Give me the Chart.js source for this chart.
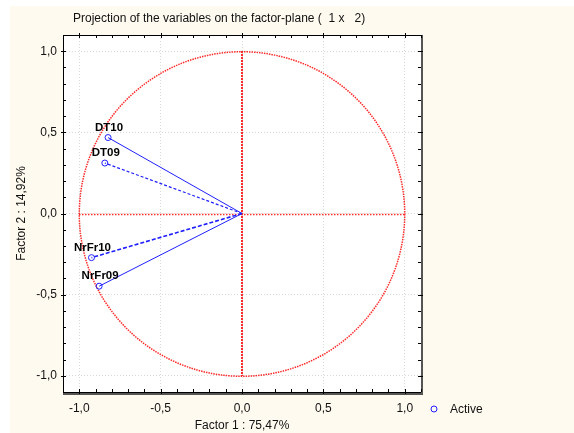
<!DOCTYPE html>
<html>
<head>
<meta charset="utf-8">
<script src="https://cdn.jsdelivr.net/npm/chart.js@4"></script>
<style>
  body { margin: 0; background: #ffffff; }
  #wrap { width: 574px; height: 433px; }
</style>
</head>
<body>
<div id="wrap"><canvas id="myChart" width="574" height="433"></canvas></div>
<script>
// values
var variables = ["DT10", "DT09", "NrFr10", "NrFr09"];
var factor1 = [-0.823, -0.843, -0.925, -0.878];
var factor2 = [0.468, 0.311, -0.272, -0.448];
var tickValues = [-1.0, -0.5, 0.0, 0.5, 1.0];
var tickLabels = ["-1,0", "-0,5", "0,0", "0,5", "1,0"];
var chartTitle = "Projection of the variables on the factor-plane (  1 x   2)";
var xTitle = "Factor 1 : 75,47%";
var yTitle = "Factor 2 : 14,92%";
var legendLabel = "Active";

var blue = "#1f1fff";
var red = "#ff2a2a";
var font = "'Liberation Sans', Arial, sans-serif";
var dashes = [[], [3, 2], [4, 2], []];
var widths = [1, 1.2, 1.6, 1];

var datasets = [];
for (var i = 0; i < variables.length; i++) {
  datasets.push({
    label: variables[i],
    data: [{x: 0, y: 0}, {x: factor1[i], y: factor2[i]}],
    showLine: true,
    borderColor: blue,
    borderWidth: widths[i],
    borderDash: dashes[i],
    pointRadius: [0, 3],
    pointBorderColor: blue,
    pointBackgroundColor: "rgba(0,0,0,0)",
    pointBorderWidth: 1
  });
}

function setTicks(scale) {
  scale.ticks = tickValues.map(function(v) { return {value: v}; });
}
function fmt(v) {
  var k = tickValues.indexOf(v);
  return k >= 0 ? tickLabels[k] : "";
}

var decor = {
  id: "decor",
  beforeDraw: function(chart) {
    var c = chart.ctx, a = chart.chartArea;
    c.save();
    c.fillStyle = "#ffffff";
    c.fillRect(0, 0, chart.width, chart.height);
    c.fillStyle = "#fefaef";
    c.fillRect(10, 6, chart.width - 10, chart.height - 6);
    c.fillStyle = "#ffffff";
    c.fillRect(a.left, a.top, a.right - a.left, a.bottom - a.top);
    c.restore();
  },
  beforeDatasetsDraw: function(chart) {
    var c = chart.ctx, xs = chart.scales.x, ys = chart.scales.y;
    var x0 = Math.round(xs.getPixelForValue(0)), y0 = Math.round(ys.getPixelForValue(0));
    var rx = xs.getPixelForValue(1) - xs.getPixelForValue(0), ry = ys.getPixelForValue(0) - ys.getPixelForValue(1);
    c.save();
    c.strokeStyle = red;
    c.lineWidth = 1.5;
    c.setLineDash([1.5, 1]);
    c.beginPath();
    c.ellipse(x0, y0, rx, ry, 0, 0, Math.PI * 2);
    c.stroke();
    // horizontal zero line
    c.lineWidth = 1.4;
    c.setLineDash([1.5, 1.5]);
    c.beginPath();
    c.moveTo(Math.round(xs.getPixelForValue(-1)), y0 + 0.5);
    c.lineTo(Math.round(xs.getPixelForValue(1)), y0 + 0.5);
    c.stroke();
    // vertical zero line
    c.lineWidth = 2;
    c.setLineDash([2, 1]);
    c.beginPath();
    c.moveTo(x0, Math.round(ys.getPixelForValue(1)));
    c.lineTo(x0, Math.round(ys.getPixelForValue(-1)));
    c.stroke();
    c.restore();
  },
  afterDraw: function(chart) {
    var c = chart.ctx, a = chart.chartArea, xs = chart.scales.x, ys = chart.scales.y;
    c.save();
    // frame
    c.strokeStyle = "#000000";
    c.lineWidth = 1;
    c.strokeRect(a.left + 0.5, a.top + 0.5, a.right - a.left, a.bottom - a.top);
    c.strokeStyle = "#555555";
    c.lineWidth = 2;
    c.beginPath();
    c.moveTo(a.right + 1, a.top);
    c.lineTo(a.right + 1, a.bottom + 2);
    c.lineTo(a.left, a.bottom + 2);
    c.stroke();
    // ticks
    c.strokeStyle = "#000000";
    c.lineWidth = 1;
    c.beginPath();
    for (var t = -11; t <= 11; t++) {
      var v = t / 10;
      var major = (t % 5 === 0);
      var px = Math.round(xs.getPixelForValue(v)) + 0.5;
      var py = Math.round(ys.getPixelForValue(v)) + 0.5;
      var ins = 3, out = major ? 2 : 0;
      c.moveTo(px, a.bottom + out); c.lineTo(px, a.bottom - ins);
      c.moveTo(px, a.top - out); c.lineTo(px, a.top + ins);
      c.moveTo(a.left - out, py); c.lineTo(a.left + ins, py);
      c.moveTo(a.right + out, py); c.lineTo(a.right - ins, py);
    }
    c.stroke();
    // point labels
    c.fillStyle = "#000000";
    c.font = "bold 11.5px " + font;
    c.textAlign = "center";
    c.textBaseline = "middle";
    for (var i = 0; i < variables.length; i++) {
      c.fillText(variables[i], xs.getPixelForValue(factor1[i]) + 1, ys.getPixelForValue(factor2[i]) - 10);
    }
    // title
    c.font = "12px " + font;
    c.fillStyle = "#111111";
    c.textAlign = "left";
    c.fillText(chartTitle, 73, 19);
    // legend
    c.strokeStyle = blue;
    c.lineWidth = 1;
    c.beginPath();
    c.arc(434, 409, 3, 0, Math.PI * 2);
    c.stroke();
    c.fillText(legendLabel, 450, 410);
    c.restore();
  }
};

var ctx = document.getElementById("myChart");
var myChart = new Chart(ctx, {
  type: "scatter",
  data: { datasets: datasets },
  options: {
    responsive: false,
    animation: false,
    layout: { padding: { top: 35, right: 153, left: 0, bottom: 0 } },
    plugins: { legend: { display: false }, tooltip: { enabled: false }, title: { display: false } },
    scales: {
      x: {
        type: "linear", min: -1.1, max: 1.1,
        afterBuildTicks: setTicks,
        afterFit: function(s) { s.height = 41; },
        border: { display: false, dash: [1, 2] },
        grid: { color: "#d8d8d8", drawTicks: false, lineWidth: 1 },
        ticks: { padding: 9, color: "#111111", font: { family: font, size: 12 }, callback: fmt, maxRotation: 0 },
        title: { display: true, text: xTitle, color: "#111111", font: { family: font, size: 12 }, padding: { top: 0, bottom: 0 } }
      },
      y: {
        type: "linear", min: -1.1, max: 1.1,
        afterBuildTicks: setTicks,
        afterFit: function(s) { s.width = 63; },
        border: { display: false, dash: [1, 2] },
        grid: { color: "#d8d8d8", drawTicks: false, lineWidth: 1 },
        ticks: { padding: 6, color: "#111111", font: { family: font, size: 12 }, callback: fmt },
        title: { display: true, text: yTitle, color: "#111111", font: { family: font, size: 12 }, padding: { top: 14, bottom: 0 } }
      }
    }
  },
  plugins: [decor]
});
</script>
</body>
</html>
